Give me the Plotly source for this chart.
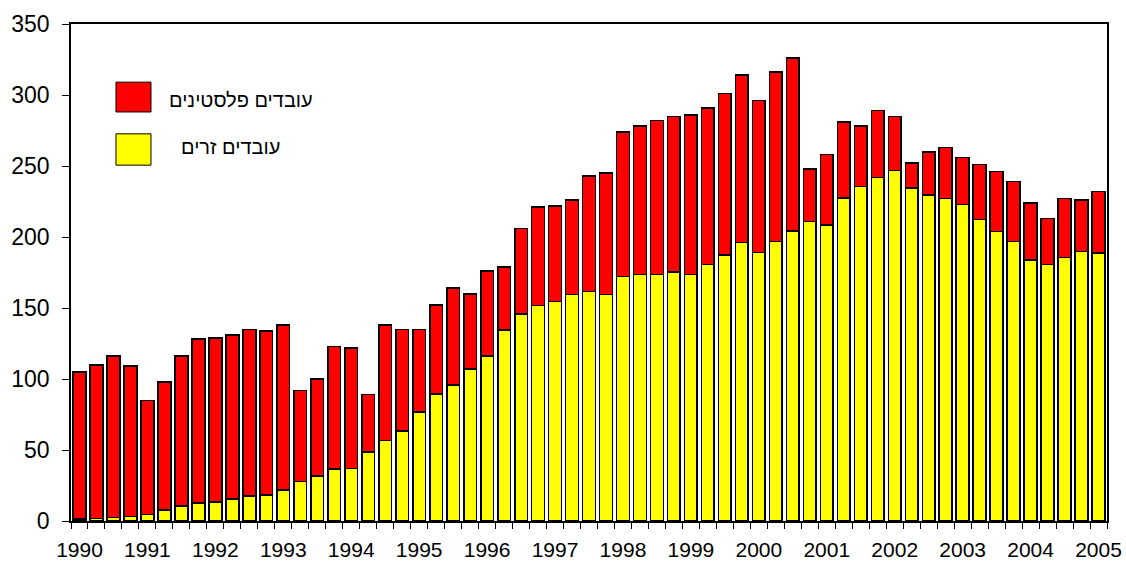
import plotly.graph_objects as go

years = [str(y) for y in range(1990, 2006)]
# quarterly, 1990Q1 .. 2005Q1 (61 quarters)
totals = [105, 110, 116, 109, 85, 98, 116, 128,
          129, 131, 135, 134, 138, 92, 100, 123,
          122, 89, 138, 135, 135, 152, 164, 160,
          176, 179, 206, 221, 222, 226, 243, 245,
          274, 278, 282, 285, 286, 291, 301, 314,
          296, 316, 326, 248, 258, 281, 278, 289,
          285, 252, 260, 263, 256, 251, 246, 239,
          224, 213, 227, 226, 232]
foreign = [1.4, 1.9, 2.6, 3.3, 4.7, 7.7, 10.6, 12.7,
           13.4, 15.7, 17.6, 18.5, 21.8, 27.7, 31.7, 36.6,
           37.1, 48.4, 56.8, 63.4, 76.8, 89.4, 95.8, 107,
           116.4, 134.5, 145.8, 151.9, 154.7, 159.6, 161.5, 159.6,
           172.2, 173.5, 173.5, 175.4, 173.7, 180.5, 187.5, 196,
           189.2, 196.7, 204.2, 210.8, 208.5, 227.4, 235.7, 242,
           246.7, 234.3, 229.6, 227, 222.8, 212.2, 204, 196.7,
           183.8, 180.5, 185.7, 189.7, 188.7]
palestinian = [round(t - f, 1) for t, f in zip(totals, foreign)]
label_palestinian = "עובדים פלסטינים"
label_foreign = "עובדים זרים"

x = list(range(len(totals)))

fig = go.Figure()
fig.add_trace(go.Bar(x=x, y=foreign, name=label_foreign,
                     marker=dict(color="#FFFF00", line=dict(color="black", width=1.6)),
                     showlegend=False))
fig.add_trace(go.Bar(x=x, y=palestinian, name=label_palestinian,
                     marker=dict(color="#FF0000", line=dict(color="black", width=1.6)),
                     showlegend=False))

font = "Liberation Sans, Arial, sans-serif"
fig.update_layout(
    barmode="stack", bargap=0.25,
    width=1126, height=563,
    margin=dict(l=71, r=19, t=24, b=42),
    plot_bgcolor="white", paper_bgcolor="white",
    font=dict(family=font, size=20, color="black"),
    xaxis=dict(range=[-0.5, len(totals) - 0.5], automargin=False,
               tickmode="array", tickvals=list(range(0, len(totals), 4)),
               ticktext=years, ticks="", showgrid=False, zeroline=False,
               showline=True, linecolor="black", linewidth=1.5, mirror=True,
               minor=dict(tickmode="linear", tick0=-0.5, dtick=1, ticks="outside",
                          ticklen=6, tickcolor="black", tickwidth=1, showgrid=False),
               ticklabelstandoff=9, ticklabeloverflow="allow", tickfont=dict(size=21)),
    yaxis=dict(range=[0, 350], tickmode="linear", tick0=0, dtick=50, automargin=False,
               ticks="outside", ticklen=7, tickcolor="black", showgrid=False,
               zeroline=False, showline=True, linecolor="black", linewidth=1.5,
               mirror=True, ticklabelstandoff=8, tickfont=dict(size=23)),
)

# legend drawn as decoration in paper coordinates
fig.add_shape(type="rect", xref="paper", yref="paper", x0=0.0434, x1=0.0772, y0=0.823, y1=0.883,
              fillcolor="#FF0000", line=dict(color="black", width=1))
fig.add_shape(type="rect", xref="paper", yref="paper", x0=0.0434, x1=0.0772, y0=0.716, y1=0.779,
              fillcolor="#FFFF00", line=dict(color="black", width=1))
fig.add_annotation(xref="paper", yref="paper", x=0.2355, y=0.847, text=label_palestinian,
                   showarrow=False, xanchor="right", yanchor="middle", font=dict(size=20))
fig.add_annotation(xref="paper", yref="paper", x=0.2037, y=0.752, text=label_foreign,
                   showarrow=False, xanchor="right", yanchor="middle", font=dict(size=20))

fig.write_html("out.html", config={"displayModeBar": False},
               post_script="document.body.style.margin='0';")
